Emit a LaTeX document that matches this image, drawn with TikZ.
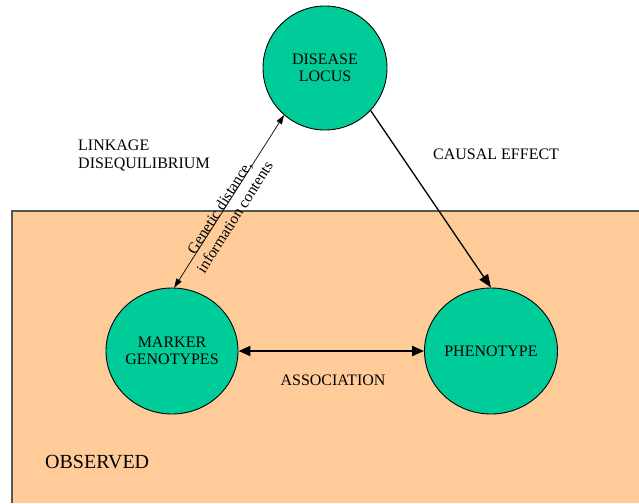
\documentclass[tikz,border=0pt]{standalone}
\usepackage{fontspec}
\setmainfont{Liberation Serif}
\usetikzlibrary{arrows.meta,shapes.geometric}

\definecolor{locusgreen}{RGB}{0,204,153}
\definecolor{observedbg}{RGB}{255,204,153}
\definecolor{observedline}{RGB}{85,85,85}

\begin{document}
\begin{tikzpicture}[x=1pt,y=-1pt,
    blob/.style={ellipse,draw=black,line width=0.9pt,fill=locusgreen,
      inner sep=0pt,align=center,font=\fontsize{16}{17}\selectfont},
    tag/.style={inner sep=0pt,font=\fontsize{16}{18}\selectfont}]
  \useasboundingbox (0,0) rectangle (639,503);

  % observed region
  \fill[observedbg] (12,211) rectangle (639,503);
  \draw[observedline,line width=1.5pt] (12,503) -- (12,211) -- (639,211);
  \node[tag,anchor=west,font=\fontsize{20}{22}\selectfont] (obs) at (45,462) {OBSERVED};

  % the three circles
  \node[blob,minimum width=124pt,minimum height=124pt] (disease) at (325,68) {DISEASE\\LOCUS};
  \node[blob,minimum width=132pt,minimum height=126pt] (marker) at (172,351) {MARKER\\GENOTYPES};
  \node[blob,minimum width=133pt,minimum height=126pt] (pheno) at (491,351) {PHENOTYPE};

  % connectors
  \draw[line width=0.7pt,{Triangle[length=9pt,width=6pt]}-{Triangle[length=9pt,width=6pt]}]
    (marker.88) -- (disease.229)
    node[pos=0.45,sloped,yshift=-4pt,align=center,inner sep=0pt,
      font=\fontsize{15.5}{18}\selectfont] (dist) {Genetic distance,\\information contents};
  \draw[line width=1.3pt,-{Triangle[length=13pt,width=10pt]}] (disease.-43) -- (pheno.north);
  \draw[line width=2.2pt,{Triangle[length=12pt,width=10pt]}-{Triangle[length=12pt,width=10pt]}]
    (marker.east) -- (pheno.west);

  % labels
  \node[tag,anchor=west,align=left] (ld) at (78,155) {LINKAGE\\DISEQUILIBRIUM};
  \node[tag,anchor=west] (causal) at (433,154) {CAUSAL EFFECT};
  \node[tag] (assoc) at (333,380) {ASSOCIATION};
\end{tikzpicture}
\end{document}
